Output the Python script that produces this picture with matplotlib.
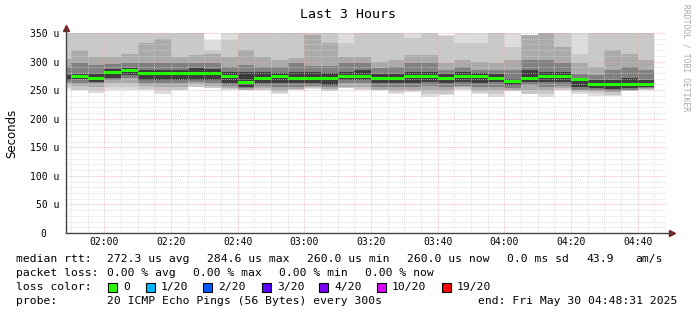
import numpy as np
import pandas as pd
import matplotlib
matplotlib.use('Agg')
import matplotlib.pyplot as plt
import matplotlib.dates as mdates
from matplotlib.patches import Rectangle
from matplotlib.transforms import ScaledTranslation

# smoke bands per 5 minute step (first step is the partial 01:48:31-01:50)
# top1/bot1 = outermost (lightest) band ... top5/bot5 = innermost (darkest) band, in microseconds
top1 = [360, 360, 360, 360, 360, 360, 360, 360, 360, 338, 360, 360, 360, 360, 360, 360, 360, 360,
        360, 360, 360, 360, 360, 346, 360, 360, 360, 360, 346, 360, 360, 360, 360, 360, 360, 360]
top2 = [360, 360, 360, 360, 360, 360, 360, 360, 360, 320, 338, 360, 360, 360, 360, 360, 360, 332,
        360, 360, 360, 341, 360, 344, 332, 332, 360, 326, 346, 360, 360, 314, 360, 360, 360, 360]
top3 = [305, 320, 308, 308, 314, 332, 340, 308, 311, 313, 308, 320, 308, 303, 306, 346, 332, 308,
        308, 300, 302, 311, 311, 297, 303, 300, 297, 303, 346, 360, 326, 297, 290, 320, 314, 303]
top4 = [290, 297, 294, 295, 297, 297, 297, 297, 297, 297, 291, 294, 291, 291, 297, 292, 292, 297,
        297, 288, 290, 297, 297, 285, 291, 285, 285, 285, 303, 303, 297, 279, 276, 285, 291, 285]
top5 = [277, 279, 279, 287, 289, 285, 285, 285, 288, 287, 282, 282, 282, 280, 282, 282, 280, 282,
        285, 278, 278, 282, 282, 278, 282, 280, 278, 270, 285, 282, 282, 271, 268, 268, 271, 268]
median = [np.nan, 274.6, 270.0, 280.6, 284.6, 279.4, 279.4, 279.4, 279.4, 279.4, 274.6, 263.8,
          270.0, 274.6, 270.0, 270.0, 270.0, 274.6, 274.6, 270.0, 270.0, 274.6, 274.6, 270.0,
          274.6, 274.6, 270.0, 264.8, 270.0, 274.6, 274.6, 268.0, 260.0, 260.0, 260.0, 260.0]
bot5 = [268, 269, 264, 272, 276, 268, 268, 268, 268, 268, 262, 256, 262, 262, 262, 262, 259, 268,
        268, 262, 262, 262, 264, 262, 264, 262, 264, 259, 264, 264, 264, 256, 254, 252, 254, 256]
bot4 = [264, 262, 262, 268, 271, 262, 262, 262, 264, 262, 258, 254, 258, 256, 256, 258, 256, 262,
        262, 256, 256, 256, 258, 256, 258, 256, 256, 254, 259, 256, 258, 251, 250, 249, 250, 254]
bot3 = [260, 257, 256, 262, 262, 258, 256, 256, 260, 257, 254, 250, 254, 250, 252, 256, 252, 256,
        256, 250, 250, 250, 250, 250, 256, 250, 250, 250, 250, 250, 254, 250, 248, 246, 250, 252]
bot2 = [256, 251, 250, 256, 256, 252, 250, 250, 256, 254, 252, 250, 250, 246, 250, 254, 250, 254,
        252, 250, 246, 248, 244, 244, 252, 246, 244, 248, 244, 244, 250, 247, 245, 242, 248, 250]
bot1 = [252, 250, 245, 250, 251, 250, 244, 250, 256, 254, 250, 250, 250, 244, 250, 252, 248, 254,
        250, 250, 244, 246, 238, 242, 250, 244, 238, 248, 244, 238, 250, 244, 239, 240, 248, 250]

band_colors = ['#dddddd', '#c8c8c8', '#aaaaaa', '#808080', '#3c3c3c']

loss_labels = ['0', '1/20', '2/20', '3/20', '4/20', '10/20', '19/20']
loss_colors = ['#26ff00', '#00b8ff', '#0059ff', '#5e00ff', '#7e00ff', '#dd00ff', '#ff0000']

start = pd.Timestamp('2025-05-30 01:48:31')
end = pd.Timestamp('2025-05-30 04:48:31')
edges = [start] + list(pd.date_range('2025-05-30 01:50', '2025-05-30 04:45', freq='5min'))
edges = mdates.date2num(edges)

W, H = 697, 315
fig = plt.figure(figsize=(W / 100, H / 100), dpi=100)
ax = fig.add_axes([66 / W, (H - 233) / H, 600 / W, 200 / H])

def ext(v):
    v = list(v)
    return np.array(v + [v[-1]], dtype=float)

tops = [top1, top2, top3, top4, top5]
bots = [bot1, bot2, bot3, bot4, bot5]
for t, b, c in zip(tops, bots, band_colors):
    ax.fill_between(edges, ext(b), ext(t), step='post', color=c, linewidth=0, zorder=1)

# median drawn as a thin block per step (no vertical joins), green = 0 loss
med = ext(median)
ax.fill_between(edges, med - 2.6, med + 2.6, step='post', color='#26ff00', linewidth=0, zorder=5)

ax.set_xlim(mdates.date2num(start), mdates.date2num(end))
ax.set_ylim(0, 350)

mono = 'DejaVu Sans Mono'
ax.set_yticks(np.arange(0, 351, 50))
ax.set_yticklabels(['0  '] + ['%d u' % v for v in range(50, 351, 50)], family=mono, fontsize=7)
ax.set_yticks(np.arange(0, 351, 10), minor=True)
ax.xaxis.set_major_locator(mdates.MinuteLocator(byminute=[0, 20, 40]))
ax.xaxis.set_minor_locator(mdates.MinuteLocator(byminute=range(0, 60, 5)))
ax.xaxis.set_major_formatter(mdates.DateFormatter('%H:%M'))
for lab in ax.get_xticklabels():
    lab.set_family(mono)
    lab.set_fontsize(7)
    lab.set_transform(lab.get_transform() + ScaledTranslation(-4 / 100, 0, fig.dpi_scale_trans))
ax.tick_params(axis='both', which='both', length=0)
ax.tick_params(axis='y', pad=5)
ax.tick_params(axis='x', pad=3)

ax.grid(True, which='minor', color='#d2d2d2', linestyle=(0, (1, 1.5)), linewidth=0.6, zorder=3)
ax.grid(True, which='major', color='#e4a8a8', linestyle=(0, (1, 1.5)), linewidth=0.6, zorder=3)
ax.set_axisbelow(False)

for s in ax.spines.values():
    s.set_visible(False)
ax.plot([0, 1.01], [0, 0], transform=ax.transAxes, color='#444444', lw=1, clip_on=False, zorder=6)
ax.plot([0, 0], [0, 1.02], transform=ax.transAxes, color='#444444', lw=1, clip_on=False, zorder=6)
ax.plot([0], [1.025], marker='^', markersize=4, color='#7f1f1f', transform=ax.transAxes, clip_on=False)
ax.plot([1.01], [0], marker='>', markersize=4, color='#7f1f1f', transform=ax.transAxes, clip_on=False)

ax.set_ylabel('Seconds', fontsize=8.5, labelpad=8)

def px(x, y):
    return x / W, 1 - y / H

fig.text(*px(348, 14), 'Last 3 Hours', family=mono, fontsize=9.5, ha='center', va='center')
fig.text(*px(686, 4), 'RRDTOOL / TOBI OETIKER', family=mono, fontsize=5.8, color='#aaaaaa',
         rotation=270, ha='center', va='top')

fs = 8.2
rows = [
    (259, [(16, 'median rtt:'), (107, '272.3 us avg'), (207, '284.6 us max'), (307, '260.0 us min'),
           (407, '260.0 us now'), (507, '0.0 ms sd'), (586, '43.9'), (635, 'am/s')]),
    (273, [(16, 'packet loss:'), (107, '0.00 % avg'), (193, '0.00 % max'), (279, '0.00 % min'),
           (365, '0.00 % now')]),
    (301, [(16, 'probe:'), (107, '20 ICMP Echo Pings (56 Bytes) every 300s'),
           (478, 'end: Fri May 30 04:48:31 2025')]),
]
for y, items in rows:
    for x, s in items:
        fig.text(*px(x, y), s, family=mono, fontsize=fs, ha='left', va='center')

fig.text(*px(16, 287), 'loss color:', family=mono, fontsize=fs, ha='left', va='center')
sq_x = [108, 146, 203, 262, 319, 377, 442]
for x, lab, c in zip(sq_x, loss_labels, loss_colors):
    fig.patches.append(Rectangle(px(x, 291.5), 9 / W, 9 / H, transform=fig.transFigure,
                                 facecolor=c, edgecolor='black', linewidth=0.8))
    fig.text(*px(x + 15, 287), lab, family=mono, fontsize=fs, ha='left', va='center')

fig.savefig('out.png', dpi=100)
